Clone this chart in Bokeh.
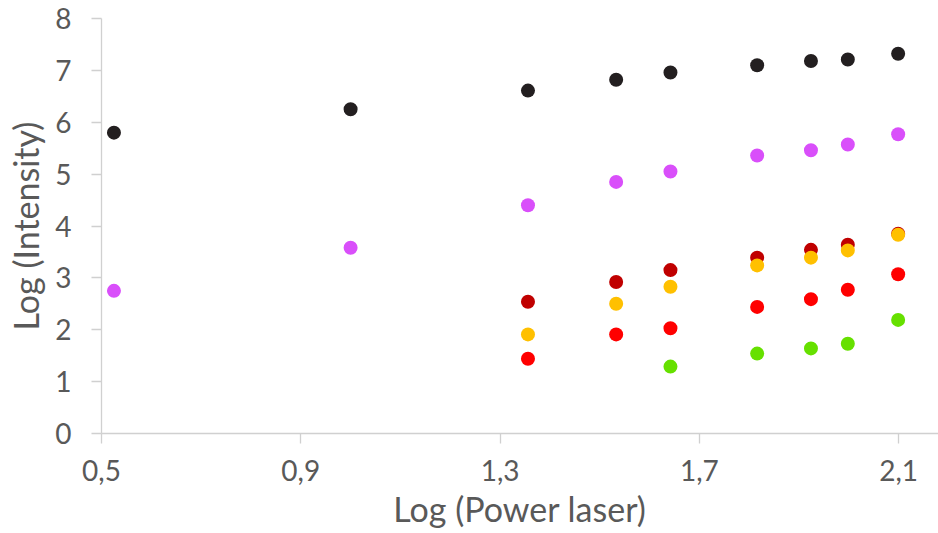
from bokeh.plotting import figure
from bokeh.models import FixedTicker, ColumnDataSource
from bokeh.embed import file_html
from bokeh.resources import INLINE

# Data
log_power = [0.525, 1.0, 1.356, 1.533, 1.642, 1.816, 1.924, 1.998, 2.099]
black_vals = [5.80, 6.25, 6.61, 6.82, 6.96, 7.10, 7.18, 7.21, 7.32]
magenta_vals = [2.75, 3.58, 4.40, 4.85, 5.05, 5.36, 5.46, 5.57, 5.77]
darkred_vals = [2.54, 2.92, 3.15, 3.39, 3.54, 3.64, 3.85]
orange_vals = [1.91, 2.50, 2.83, 3.24, 3.39, 3.53, 3.83]
red_vals = [1.44, 1.91, 2.03, 2.44, 2.59, 2.77, 3.07]
green_vals = [1.29, 1.54, 1.64, 1.73, 2.19]

x_ticks = [0.5, 0.9, 1.3, 1.7, 2.1]
x_tick_labels = ["0,5", "0,9", "1,3", "1,7", "2,1"]
y_ticks = [0, 1, 2, 3, 4, 5, 6, 7, 8]

series = [
    (log_power, black_vals, "#231F20"),
    (log_power, magenta_vals, "#D94FFA"),
    (log_power[2:], darkred_vals, "#C00000"),
    (log_power[2:], orange_vals, "#FFC000"),
    (log_power[2:], red_vals, "#FF0000"),
    (log_power[4:], green_vals, "#66E000"),
]

FONT = "Lato"
TEXT_COLOR = "#595959"
AXIS_COLOR = "#D0D0D0"

p = figure(width=938, height=533, output_backend="svg", toolbar_location=None,
           x_range=(0.5, 2.18), y_range=(0, 8),
           min_border_left=101, min_border_right=0, min_border_top=18, min_border_bottom=100)
p.outline_line_color = None
p.grid.visible = False

for xs, ys, col in series:
    src = ColumnDataSource(dict(x=xs, y=ys))
    p.scatter("x", "y", source=src, size=14, fill_color=col, line_color=None)

p.xaxis.ticker = FixedTicker(ticks=x_ticks)
p.xaxis.major_label_overrides = {t: l for t, l in zip(x_ticks, x_tick_labels)}
p.yaxis.ticker = FixedTicker(ticks=y_ticks)

p.xaxis.axis_label = "Log (Power laser)"
p.yaxis.axis_label = "Log (Intensity)"

for ax in (p.xaxis[0], p.yaxis[0]):
    ax.axis_line_color = AXIS_COLOR
    ax.axis_line_width = 1.3
    ax.major_tick_line_color = AXIS_COLOR
    ax.major_tick_line_width = 1.3
    ax.major_tick_out = 10
    ax.major_tick_in = 0
    ax.minor_tick_line_color = None
    ax.major_label_text_font = FONT
    ax.major_label_text_font_size = "28px"
    ax.major_label_text_color = TEXT_COLOR
    ax.axis_label_text_font = FONT
    ax.axis_label_text_font_size = "34px"
    ax.axis_label_text_font_style = "normal"
    ax.axis_label_text_color = TEXT_COLOR

p.xaxis.major_label_standoff = 16
p.xaxis.axis_label_standoff = 4
p.yaxis.major_label_standoff = 20
p.yaxis.axis_label_standoff = 6

open("out.html", "w").write(file_html(p, INLINE))
